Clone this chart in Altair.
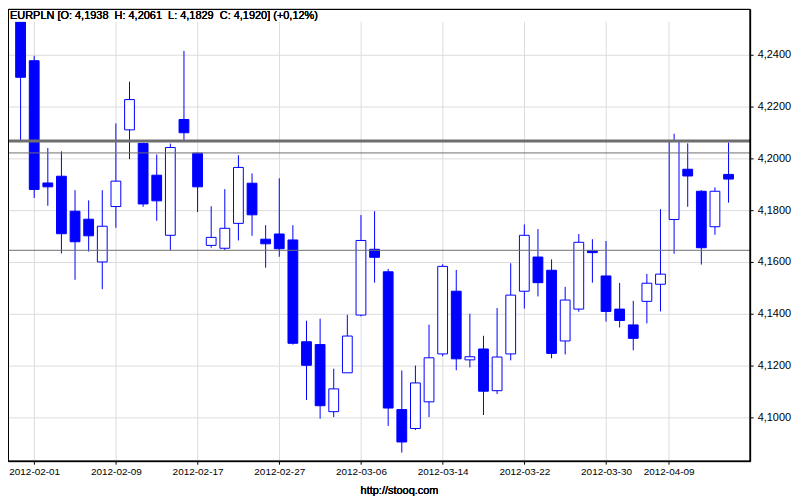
import altair as alt
import pandas as pd

# ---- data (EURPLN daily candles) ----
dates = ["2012-01-31", "2012-02-01", "2012-02-02", "2012-02-03", "2012-02-06", "2012-02-07",
         "2012-02-08", "2012-02-09", "2012-02-10", "2012-02-13", "2012-02-14", "2012-02-15",
         "2012-02-16", "2012-02-17", "2012-02-20", "2012-02-21", "2012-02-22", "2012-02-23",
         "2012-02-24", "2012-02-27", "2012-02-28", "2012-02-29", "2012-03-01", "2012-03-02",
         "2012-03-05", "2012-03-06", "2012-03-07", "2012-03-08", "2012-03-09", "2012-03-12",
         "2012-03-13", "2012-03-14", "2012-03-15", "2012-03-16", "2012-03-19", "2012-03-20",
         "2012-03-21", "2012-03-22", "2012-03-23", "2012-03-26", "2012-03-27", "2012-03-28",
         "2012-03-29", "2012-03-30", "2012-04-02", "2012-04-03", "2012-04-04", "2012-04-05",
         "2012-04-10", "2012-04-11", "2012-04-12", "2012-04-13", "2012-04-16"]

opens = [4.2545, 4.2377, 4.1905, 4.1931, 4.1796, 4.1765, 4.1600, 4.1814, 4.2110, 4.2058,
         4.1935, 4.1703, 4.2150, 4.2020, 4.1664, 4.1653, 4.1749, 4.1904, 4.1688, 4.1708,
         4.1685, 4.1292, 4.1281, 4.1022, 4.1172, 4.1395, 4.1649, 4.1562, 4.1030, 4.0957,
         4.1060, 4.1245, 4.1487, 4.1222, 4.1264, 4.1103, 4.1245, 4.1487, 4.1619, 4.1568,
         4.1295, 4.1418, 4.1643, 4.1546, 4.1418, 4.1357, 4.1448, 4.1514, 4.1764, 4.1958,
         4.1873, 4.1736, 4.1938]
highs = [4.2560, 4.2396, 4.2040, 4.2027, 4.1877, 4.1838, 4.1877, 4.2135, 4.2296, 4.2060,
         4.2015, 4.2057, 4.2415, 4.2022, 4.1815, 4.1881, 4.2012, 4.1942, 4.1742, 4.1923,
         4.1742, 4.1373, 4.1381, 4.1188, 4.1396, 4.1781, 4.1796, 4.1573, 4.1181, 4.1200,
         4.1358, 4.1591, 4.1569, 4.1400, 4.1315, 4.1422, 4.1595, 4.1745, 4.1727, 4.1610,
         4.1504, 4.1708, 4.1688, 4.1681, 4.1519, 4.1450, 4.1554, 4.1804, 4.2095, 4.2058,
         4.1877, 4.1888, 4.2061]
lows = [4.2069, 4.1847, 4.1817, 4.1633, 4.1531, 4.1640, 4.1495, 4.1732, 4.1997, 4.1813,
        4.1759, 4.1646, 4.2069, 4.1793, 4.1655, 4.1646, 4.1683, 4.1701, 4.1578, 4.1620,
        4.1281, 4.1067, 4.0995, 4.1001, 4.1172, 4.1390, 4.1520, 4.0967, 4.0864, 4.0951,
        4.1001, 4.1236, 4.1182, 4.1193, 4.1009, 4.1090, 4.1220, 4.1420, 4.1467, 4.1228,
        4.1243, 4.1408, 4.1520, 4.1370, 4.1347, 4.1259, 4.1363, 4.1409, 4.1632, 4.1813,
        4.1590, 4.1705, 4.1829]
closes = [4.2313, 4.1880, 4.1890, 4.1709, 4.1678, 4.1701, 4.1738, 4.1912, 4.2227, 4.1824,
          4.1836, 4.2042, 4.2099, 4.1890, 4.1695, 4.1730, 4.1965, 4.1782, 4.1670, 4.1651,
          4.1286, 4.1201, 4.1045, 4.1110, 4.1314, 4.1683, 4.1618, 4.1036, 4.0905, 4.1133,
          4.1230, 4.1583, 4.1226, 4.1234, 4.1101, 4.1233, 4.1472, 4.1703, 4.1520, 4.1247,
          4.1453, 4.1676, 4.1636, 4.1409, 4.1374, 4.1305, 4.1518, 4.1553, 4.2067, 4.1932,
          4.1655, 4.1873, 4.1920]

# x-axis tick positions (candle index) and their labels
tick_pos = [1, 7, 13, 19, 25, 31, 37, 43, 47.6]
tick_labels = ["2012-02-01", "2012-02-09", "2012-02-17", "2012-02-27", "2012-03-06",
               "2012-03-14", "2012-03-22", "2012-03-30", "2012-04-09"]
y_ticks = [4.10, 4.12, 4.14, 4.16, 4.18, 4.20, 4.22, 4.24]

# horizontal reference lines (levels) and their widths
levels = [4.2067, 4.2021, 4.1645]
level_widths = [3, 1, 1]

NB = "\u00a0"
header = f"EURPLN [O: 4,1938{NB}{NB}H: 4,2061{NB}{NB}L: 4,1829{NB}{NB}C: 4,1920] (+0,12%)"
footer = "http://stooq.com"

df = pd.DataFrame({"i": list(range(len(dates))), "date": dates,
                   "open": opens, "high": highs, "low": lows, "close": closes})
lv = pd.DataFrame({"level": levels, "w": level_widths})

BLUE = "#0000ff"
W, H = 745, 454
FONT = "Liberation Sans"

xscale = alt.Scale(domain=[-0.9244, 53.587], nice=False, zero=False)
yscale = alt.Scale(domain=[4.083077, 4.257692], nice=False, zero=False)

label_expr = "[" + ",".join(f"'{t}'" for t in tick_labels) + "][indexof([" + \
    ",".join(str(p) for p in tick_pos) + "], datum.value)]"

xaxis = alt.Axis(values=tick_pos, labelExpr=label_expr, title=None, grid=True,
                 gridColor="#dcdcdc", gridWidth=1, domainColor="black", tickColor="black",
                 tickSize=3, labelFontSize=10, labelFont=FONT, labelColor="black",
                 labelPadding=2, labelOverlap=False, labelFlush=False, labelBound=False)
yaxis = alt.Axis(values=y_ticks, orient="right", title=None, grid=True,
                 gridColor="#dcdcdc", gridWidth=1, domainColor="black", tickColor="black",
                 tickSize=3, labelFontSize=11, labelFont=FONT, labelColor="black",
                 labelPadding=4, labelExpr="replace(format(datum.value, '.4f'), '.', ',')",
                 labelOverlap=False, labelFlush=False, labelBound=False)

base = alt.Chart(df)

wicks = base.mark_rule(color=BLUE, strokeWidth=1, clip=True).encode(
    x=alt.X("i:Q", scale=xscale, axis=xaxis),
    y=alt.Y("low:Q", scale=yscale, axis=yaxis),
    y2="high:Q",
)

bodies = base.transform_calculate(
    x1="datum.i - 0.36", x2="datum.i + 0.36",
    lo="min(datum.open, datum.close)", hi="max(datum.open, datum.close)",
).mark_rect(stroke=BLUE, strokeWidth=1, clip=True).encode(
    x=alt.X("x1:Q", scale=xscale, axis=xaxis),
    x2="x2:Q",
    y=alt.Y("lo:Q", scale=yscale, axis=yaxis),
    y2="hi:Q",
    fill=alt.condition("datum.close < datum.open", alt.value(BLUE), alt.value("white")),
)

lines = alt.Chart(lv).mark_rule(color="#6e6e6e").encode(
    y=alt.Y("level:Q", scale=yscale, axis=yaxis),
    strokeWidth=alt.StrokeWidth("w:Q", scale=None, legend=None),
)

strip = alt.Chart(lv).mark_rect(fill="white").encode(
    x=alt.value(0), x2=alt.value(W), y=alt.value(0), y2=alt.value(12.5))

head_txt = alt.Chart(lv).mark_text(align="left", baseline="alphabetic", fontSize=11,
                                   font=FONT, color="black").encode(
    x=alt.value(2), y=alt.value(10), text=alt.value(header))

foot_txt = alt.Chart(lv).mark_text(align="center", baseline="alphabetic", fontSize=11,
                                   font=FONT, color="black").encode(
    x=alt.value(393), y=alt.value(487), text=alt.value(footer))

frame = alt.Chart(lv).mark_rect(fill="white", fillOpacity=0, stroke="black",
                                strokeWidth=1).encode(
    x=alt.value(0.5), x2=alt.value(W), y=alt.value(0.5), y2=alt.value(H))

chart = alt.layer(wicks, bodies, lines, strip, head_txt, foot_txt, frame).properties(
    width=W, height=H,
    autosize=alt.AutoSizeParams(type="none"),
    padding={"left": 0, "top": 0, "right": 42, "bottom": 36},
    background="white",
).configure_view(stroke=None)

chart.save("out.html", embed_options={"renderer": "svg", "actions": False})
